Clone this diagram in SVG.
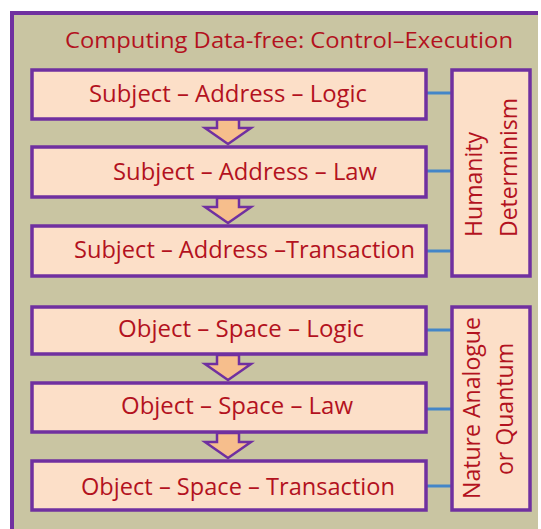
<svg xmlns="http://www.w3.org/2000/svg" width="541" height="529" viewBox="0 0 541 529">
  <style>
    .frame { fill: #C9C5A2; }
    .frame-edge { fill: none; stroke: #7030A0; stroke-width: 4; }
    .box { fill: #FCDFC8; stroke: #7030A0; stroke-width: 3.5; }
    .label { font-family: "Open Sans", "Liberation Sans", sans-serif; font-size: 24px; fill: #B3121E; }
    .title { font-family: "Open Sans", "Liberation Sans", sans-serif; font-size: 22px; fill: #B3121E; }
    .flow { fill: #F6BE8C; stroke: #7030A0; stroke-width: 2.5; stroke-linejoin: miter; }
    .link { stroke: #4386C8; stroke-width: 3; fill: none; }
  </style>
  <defs>
    <!-- down arrow between stacked boxes; origin at top centre of the shaft -->
    <path id="downArrow" class="flow" d="M -11 0 L 11 0 L 11 9 L 23 9 L 0 25 L -23 9 L -11 9 Z"/>
  </defs>

  <rect width="541" height="529" fill="#FFFFFF"/>

  <!-- outer panel, cut off at the right and bottom -->
  <g id="panel">
    <rect class="frame" x="12" y="13" width="526" height="520"/>
    <path class="frame-edge" d="M 538 13 L 12 13 L 12 535"/>
    <text class="title" x="65" y="48" textLength="448" lengthAdjust="spacingAndGlyphs">Computing Data-free: Control–Execution</text>
  </g>

  <!-- connectors -->
  <g id="connectors">
    <line class="link" x1="426" y1="93" x2="452" y2="93"/>
    <line class="link" x1="426" y1="171" x2="452" y2="171"/>
    <line class="link" x1="426" y1="251" x2="452" y2="251"/>
    <line class="link" x1="426" y1="330" x2="452" y2="330"/>
    <line class="link" x1="426" y1="409" x2="452" y2="409"/>
    <line class="link" x1="426" y1="486" x2="452" y2="486"/>
    <use href="#downArrow" x="228" y="119"/>
    <use href="#downArrow" x="228" y="198"/>
    <use href="#downArrow" x="228" y="355"/>
    <use href="#downArrow" x="228" y="433"/>
  </g>

  <!-- subject chain -->
  <g id="subject-logic">
    <rect class="box" x="32" y="70" width="394" height="49"/>
    <text class="label" x="89" y="102" textLength="278" lengthAdjust="spacingAndGlyphs">Subject – Address – Logic</text>
  </g>
  <g id="subject-law">
    <rect class="box" x="32" y="147" width="394" height="50"/>
    <text class="label" x="113" y="180" textLength="264" lengthAdjust="spacingAndGlyphs">Subject – Address – Law</text>
  </g>
  <g id="subject-transaction">
    <rect class="box" x="32" y="226" width="394" height="50"/>
    <text class="label" x="74" y="258" textLength="341" lengthAdjust="spacingAndGlyphs">Subject – Address –Transaction</text>
  </g>

  <!-- object chain -->
  <g id="object-logic">
    <rect class="box" x="32" y="307" width="394" height="47"/>
    <text class="label" x="118" y="337" textLength="246" lengthAdjust="spacingAndGlyphs">Object – Space – Logic</text>
  </g>
  <g id="object-law">
    <rect class="box" x="32" y="383" width="394" height="49"/>
    <text class="label" x="121" y="414" textLength="232" lengthAdjust="spacingAndGlyphs">Object – Space – Law</text>
  </g>
  <g id="object-transaction">
    <rect class="box" x="32" y="461" width="394" height="49"/>
    <text class="label" x="81" y="495" textLength="314" lengthAdjust="spacingAndGlyphs">Object – Space – Transaction</text>
  </g>

  <!-- side categories -->
  <g id="humanity-determinism">
    <rect class="box" x="452" y="70" width="78" height="206"/>
    <text class="label" transform="translate(482 237) rotate(-90)" textLength="105" lengthAdjust="spacingAndGlyphs">Humanity</text>
    <text class="label" transform="translate(517 237) rotate(-90)" textLength="139" lengthAdjust="spacingAndGlyphs">Determinism</text>
  </g>
  <g id="nature-analogue">
    <rect class="box" x="452" y="307" width="78" height="203"/>
    <text class="label" text-anchor="middle" transform="translate(480 408) rotate(-90)" textLength="182" lengthAdjust="spacingAndGlyphs">Nature Analogue</text>
    <text class="label" text-anchor="middle" transform="translate(513 409) rotate(-90)" textLength="132" lengthAdjust="spacingAndGlyphs">or Quantum</text>
  </g>
</svg>
